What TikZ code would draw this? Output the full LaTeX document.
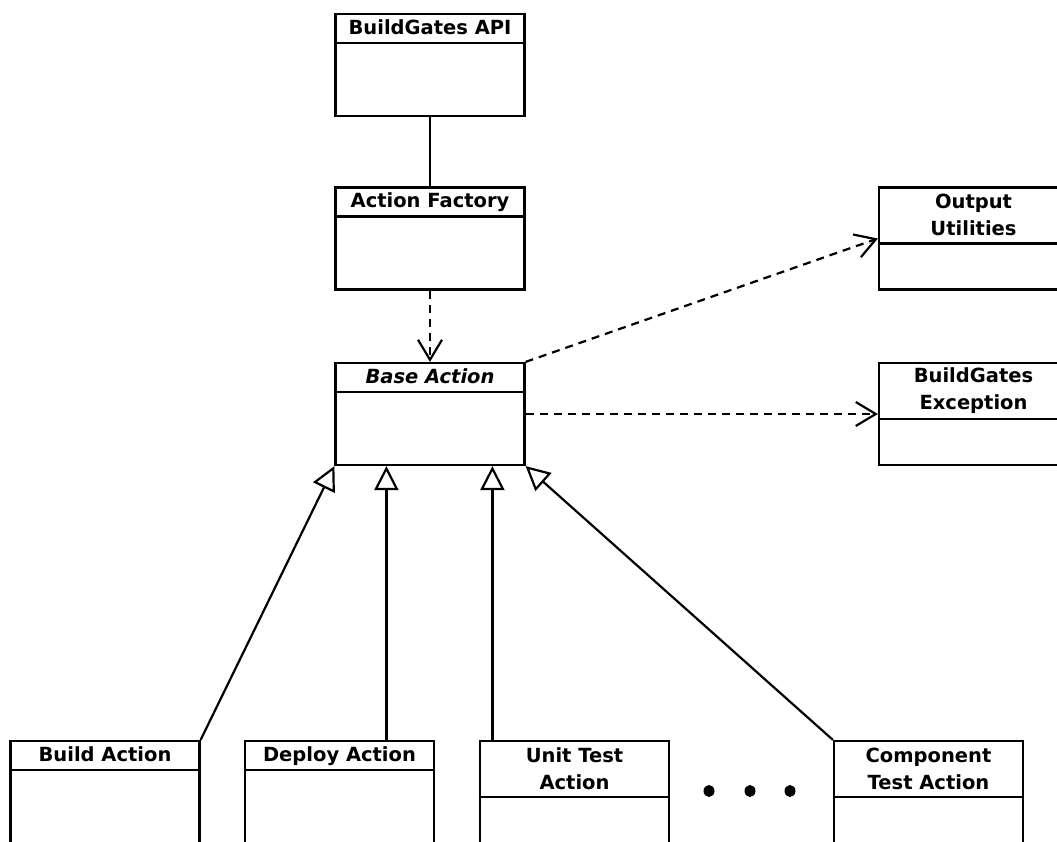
\documentclass[tikz,border=0pt]{standalone}
\usepackage{fontspec}
\setmainfont{DejaVu Sans}
\usepackage{tikz}
\usetikzlibrary{arrows.meta,positioning,calc}

\begin{document}
\begin{tikzpicture}[x=1pt,y=-1pt,line width=2.2pt,
    classbox/.style={draw,minimum width=189pt,minimum height=102pt,inner sep=0pt},
    classhead/.style={anchor=north,minimum width=189pt,inner sep=0pt,align=center,
        font=\fontsize{19.5}{27}\selectfont\bfseries},
    onehead/.style={classhead,minimum height=28pt,text height=14pt,text depth=1pt},
    twohead/.style={classhead,minimum height=55pt},
    depends/.style={dash pattern=on 8pt off 6pt,-{Straight Barb[length=20pt,width=24pt]}},
    inherits/.style={-{Triangle[open,fill=white,length=24pt,width=24pt]}}]
    \useasboundingbox (0,0) rectangle (1057,842);
    \clip (0,0) rectangle (1057,842);
    % classes
    \node[classbox] (api) at (430,65) {};
    \node[onehead] (apihead) at (api.north) {BuildGates API};
    \node[classbox] (factory) at (430,238.5) {};
    \node[onehead] (factoryhead) at (factory.north) {Action Factory};
    \node[classbox] (base) at (430,414) {};
    \node[onehead] (basehead) at (base.north) {\itshape Base Action};
    \node[classbox] (output) at (973.5,238.5) {};
    \node[twohead] (outputhead) at (output.north) {Output\\Utilities};
    \node[classbox] (except) at (973.5,414) {};
    \node[twohead] (excepthead) at (except.north) {BuildGates\\Exception};
    \node[classbox] (build) at (105,792) {};
    \node[onehead] (buildhead) at (build.north) {Build Action};
    \node[classbox] (deploy) at (339.5,792) {};
    \node[onehead] (deployhead) at (deploy.north) {Deploy Action};
    \node[classbox] (unit) at (574.5,792) {};
    \node[twohead] (unithead) at (unit.north) {Unit Test\\Action};
    \node[classbox] (comp) at (928.5,792) {};
    \node[twohead] (comphead) at (comp.north) {Component\\Test Action};
    \foreach \c in {api,factory,base,output,except,build,deploy,unit,comp}
        \draw (\c.west |- \c head.south) -- (\c.east |- \c head.south);
    % connectors
    \draw (api) -- (factory);
    \draw[depends] (factory) -- (base);
    \draw[depends] (base.north east) -- (output.west);
    \draw[depends] (base.east) -- (except.west);
    \coordinate (deployin) at ([xshift=52pt]base.south west);
    \coordinate (unitin) at ([xshift=158pt]base.south west);
    \draw[inherits] (build.north east) -- (base.south west);
    \draw[inherits] (deploy.north -| deployin) -- (deployin);
    \draw[inherits] (unit.north -| unitin) -- (unitin);
    \draw[inherits] (comp.north west) -- (base.south east);
    \foreach \dx in {709,750,790}
        \fill (\dx,791) ellipse (5.5pt and 6pt);
\end{tikzpicture}
\end{document}
